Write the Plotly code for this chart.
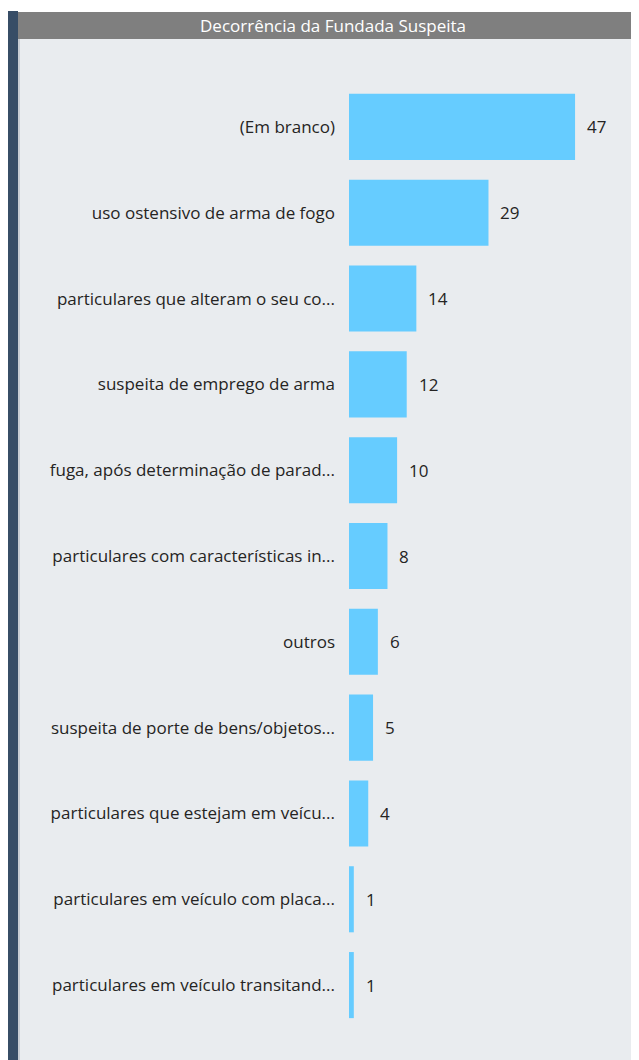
import plotly.graph_objects as go

categories = [
    "(Em branco)",
    "uso ostensivo de arma de fogo",
    "particulares que alteram o seu co...",
    "suspeita de emprego de arma",
    "fuga, após determinação de parad...",
    "particulares com características in...",
    "outros",
    "suspeita de porte de bens/objetos...",
    "particulares que estejam em veícu...",
    "particulares em veículo com placa...",
    "particulares em veículo transitand...",
]
values = [47, 29, 14, 12, 10, 8, 6, 5, 4, 1, 1]
title_text = "Decorrência da Fundada Suspeita"

W, H = 639, 1060
OFF = 8  # page body margin
BG = "#E9ECEF"
BAR = "#66CCFF"
FONT = "Open Sans"

def px(x):
    return (x - OFF) / W

def py(y):
    return 1 - (y - OFF) / H

fig = go.Figure()
fig.add_trace(go.Bar(
    x=values, y=categories, orientation="h",
    marker=dict(color=BAR, line=dict(width=0)),
    width=0.77, hoverinfo="skip",
))

annotations = []
for c, v in zip(categories, values):
    annotations.append(dict(
        x=v, y=c, xref="x", yref="y", text=str(v), showarrow=False,
        xanchor="left", xshift=10, font=dict(family=FONT, size=17, color="#252423"),
    ))
annotations.append(dict(
    x=px(333), y=py(26), xref="paper", yref="paper", text=title_text,
    showarrow=False, xanchor="center", yanchor="middle",
    font=dict(family=FONT, size=17, color="#FFFFFF"),
))

shapes = [
    dict(type="rect", xref="paper", yref="paper", x0=px(18), x1=1.05, y0=-0.05, y1=py(39),
         fillcolor=BG, line=dict(width=0), layer="below"),
    dict(type="rect", xref="paper", yref="paper", x0=px(18), x1=1.05, y0=py(39), y1=py(12),
         fillcolor="#7F7F7F", line=dict(width=0), layer="below"),
    dict(type="rect", xref="paper", yref="paper", x0=px(8), x1=px(18), y0=-0.05, y1=py(11),
         fillcolor="#374D66", line=dict(width=0), layer="below"),
    dict(type="rect", xref="paper", yref="paper", x0=px(18), x1=px(20), y0=-0.05, y1=py(39),
         fillcolor="#C8CDD3", line=dict(width=0), layer="below"),
]

fig.update_layout(
    width=W, height=H,
    margin=dict(l=0, r=0, t=0, b=0),
    paper_bgcolor="#FFFFFF",
    plot_bgcolor=BG,
    showlegend=False,
    shapes=shapes,
    annotations=annotations,
    xaxis=dict(domain=[px(349), 1], range=[0, (W - (349 - OFF)) / 4.81],
               visible=False, fixedrange=True),
    yaxis=dict(domain=[py(1028), py(84)], autorange="reversed",
               categoryorder="array", categoryarray=categories,
               showgrid=False, zeroline=False, showline=False, ticks="",
               automargin=False, ticklabelstandoff=13,
               tickfont=dict(family=FONT, size=17, color="#252423")),
)

fig.write_html("out.html")
